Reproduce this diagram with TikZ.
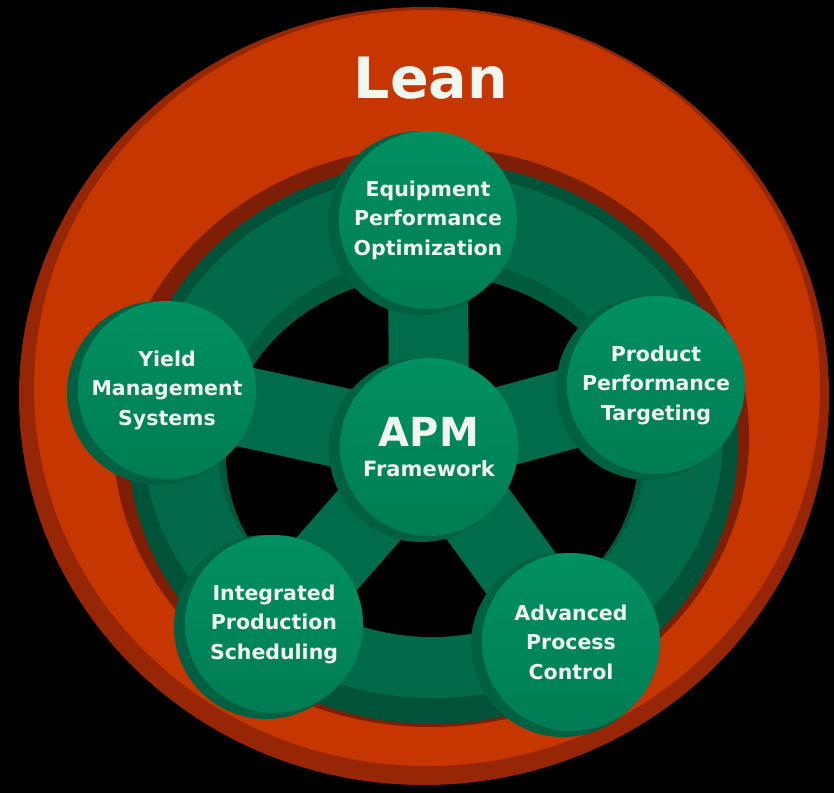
\documentclass[tikz,border=0pt]{standalone}
\usepackage{fontspec}
\setmainfont{DejaVu Sans}
\usetikzlibrary{calc}
\definecolor{redmain}{RGB}{198,54,0}
\definecolor{reddark}{RGB}{150,38,6}
\definecolor{redshadow}{RGB}{126,30,6}
\definecolor{ringdark}{RGB}{0,82,56}
\definecolor{ringface}{RGB}{0,106,74}
\definecolor{ringinner}{RGB}{0,90,62}
\definecolor{spokegreen}{RGB}{0,108,76}
\definecolor{rimgreen}{RGB}{0,96,66}
\definecolor{facetop}{RGB}{0,144,98}
\definecolor{facebot}{RGB}{0,124,84}
\definecolor{txt}{RGB}{242,246,240}
\begin{document}
\begin{tikzpicture}[x=1pt,y=-1pt,
  hub/.style={circle, minimum size=178pt, inner sep=0pt, top color=facetop, bottom color=facebot,
    text=txt, font=\bfseries\fontsize{20.5}{29.5}\selectfont, align=center},
  rimshadow/.style={fill=rimgreen},
  spoke/.style={line width=80pt, draw=spokegreen},
  title/.style={text=txt, font=\bfseries\fontsize{57}{57}\selectfont, inner sep=0pt, anchor=base}]
\useasboundingbox (0,0) rectangle (834,793);
\fill[black] (0,0) rectangle (834,793);
% outer red ring
\fill[reddark] (424,396) ellipse [x radius=405pt, y radius=389pt];
\fill[redmain] (427,388) ellipse [x radius=393pt, y radius=378pt];
\node[title] (lean) at (431,98) {Lean};
% shadow round the green wheel
\fill[redshadow] (431,437) ellipse [x radius=318pt, y radius=290pt];
% green wheel ring
\fill[ringdark] (433,443) ellipse [x radius=305pt, y radius=281pt];
\fill[ringface] (433,436) ellipse [x radius=290pt, y radius=262pt];
\fill[ringinner] (432,447) ellipse [x radius=214pt, y radius=190pt];
\fill[black] (432,456) ellipse [x radius=206pt, y radius=181pt];
% hub positions
\coordinate (cAPM) at (429,447);
\coordinate (cEPO) at (428,220);
\coordinate (cYMS) at (167,390);
\coordinate (cPPT) at (656,385);
\coordinate (cIPS) at (274,624);
\coordinate (cAPC) at (571,642);
% spokes
\foreach \c in {cEPO,cYMS,cPPT,cIPS,cAPC}
  \draw[spoke] (cAPM) -- (\c);
% hub shadows
\foreach \c in {cAPM,cEPO,cYMS,cPPT,cIPS,cAPC}
  \fill[rimshadow] ($(\c)+(-8,3)$) circle [radius=92pt];
% hubs
\node[hub] (apm) at (cAPM) {\fontsize{40}{32}\selectfont APM\\\fontsize{21}{32}\selectfont Framework};
\node[hub] (epo) at (cEPO) {Equipment\\Performance\\Optimization};
\node[hub] (yms) at (cYMS) {Yield\\Management\\Systems};
\node[hub] (ppt) at (cPPT) {Product\\Performance\\Targeting};
\node[hub] (ips) at (cIPS) {Integrated\\Production\\Scheduling};
\node[hub] (apc) at (cAPC) {Advanced\\Process\\Control};
\end{tikzpicture}
\end{document}
